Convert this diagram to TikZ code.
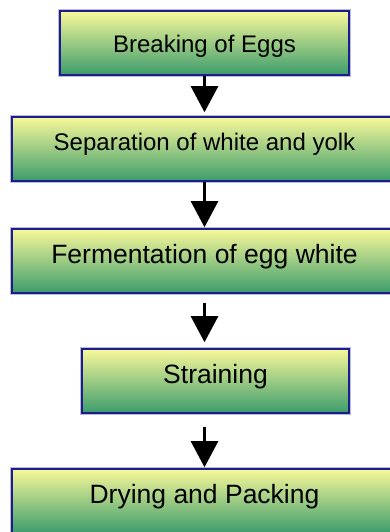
\documentclass[tikz,border=0pt]{standalone}
\usepackage{fontspec}
\setmainfont{Liberation Sans}
\usetikzlibrary{arrows.meta}
\definecolor{boxtop}{HTML}{F8F89A}
\definecolor{boxbot}{HTML}{3C9C6C}
\definecolor{boxline}{HTML}{1C1C8C}
\definecolor{boxglow}{HTML}{B8BCD8}
\tikzset{
  stepbox/.style={rectangle, minimum height=64pt, inner sep=0pt,
    top color=boxtop, bottom color=boxbot, draw=boxline, line width=1.5pt,
    preaction={draw=boxglow, line width=3.2pt},
    font=\fontsize{26.5pt}{30pt}\selectfont, text height=19pt, text depth=13pt},
  firstbox/.style={font=\fontsize{24pt}{28pt}\selectfont, text height=18.8pt, text depth=0pt},
  secondbox/.style={font=\fontsize{24pt}{28pt}\selectfont, text height=17.3pt, text depth=15.1pt},
  flow/.style={draw=black, line width=2.5pt, -{Triangle[width=27pt,length=26pt]}}
}
\begin{document}
\begin{tikzpicture}[x=1pt,y=1pt]
\useasboundingbox (0,0) rectangle (390,532);
\clip (0,0) rectangle (390,532);
\node[stepbox, firstbox, minimum width=289pt] (n1) at (204.5,489) {Breaking of Eggs};
\node[stepbox, secondbox, minimum width=385pt] (n2) at (204.5,383) {Separation of white and yolk};
\node[stepbox, minimum width=385pt] (n3) at (204.5,271) {Fermentation of egg white};
\node[stepbox, minimum width=267pt] (n4) at (215.5,151) {Straining};
\node[stepbox, minimum width=385pt] (n5) at (204.5,31) {Drying and Packing};
\coordinate (a3s) at ([yshift=-9pt]n3.south);
\coordinate (a3e) at ([yshift=6pt]n4.north -| n3.south);
\coordinate (a4s) at ([yshift=-13pt]n4.south -| n5.north);
\draw[flow] (n1.south) -- ([yshift=4pt]n2.north);
\draw[flow] (n2.south) -- ([yshift=1pt]n3.north);
\draw[flow] (a3s) -- (a3e);
\draw[flow] (a4s) -- ([yshift=1pt]n5.north);
\end{tikzpicture}
\end{document}
